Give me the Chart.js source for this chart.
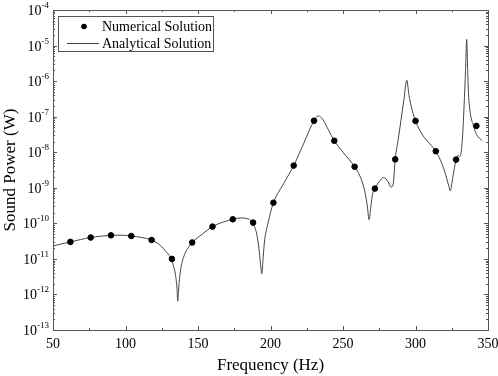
<!DOCTYPE html>
<html><head><meta charset="utf-8">
<script src="https://cdn.jsdelivr.net/npm/chart.js@4/dist/chart.umd.min.js"></script>
<style>html,body{margin:0;padding:0;background:#fff}#wrap{width:498px;height:376px}</style>
</head><body><div id="wrap"><canvas id="c" width="498" height="376"></canvas></div>
<script>
const numFreq = [62,76,90,104,118,132,146,160,174,188,202,216,230,244,258,272,286,300,314,328,342];
const numPower = [3.0e-11,4.0e-11,4.6e-11,4.4e-11,3.4e-11,1.0e-11,2.9e-11,8.1e-11,1.3e-10,1.05e-10,3.8e-10,4.2e-9,7.7e-8,2.1e-8,3.9e-9,9.5e-10,6.3e-9,7.6e-8,1.07e-8,6.2e-9,5.5e-8];
const anaFreq = [50,56,62,69,76,83,90,97,104,111,118,124,128,131,133,134.5,135.5,136,136.5,137.5,139,141,143,146,153,160,167,174,180,184,187,189,190.5,192,193,194,195,196,197,198.5,200,202,209,216,223,230,233,236,240,244,250,258,262,265,266.8,268,269.2,270.5,272,275,278,281,283,284.5,286,288,290,292,294,295.5,297,300,305,310,314,318,321,323,324,325,326.5,328,329.5,330.5,331.5,332.5,333.5,334.5,335.3,336,336.6,337.2,338,340,342,346,350];
const anaPower = [2.3e-11,2.65e-11,3.0e-11,3.5e-11,4.0e-11,4.35e-11,4.6e-11,4.65e-11,4.4e-11,4.0e-11,3.4e-11,2.4e-11,1.6e-11,1.1e-11,6.5e-12,3.5e-12,1.5e-12,6.5e-13,1.2e-12,3.5e-12,8e-12,1.4e-11,2.0e-11,2.9e-11,5.0e-11,8.1e-11,1.07e-10,1.3e-10,1.42e-10,1.35e-10,1.15e-10,8e-11,5e-11,2e-11,8e-12,3.8e-12,1.2e-11,3.5e-11,6e-11,1.1e-10,2e-10,3.8e-10,1.3e-9,4.2e-9,1.8e-8,7.7e-8,1.05e-7,8.5e-8,4.2e-8,2.1e-8,1.0e-8,3.9e-9,2.0e-9,8e-10,3e-10,1.25e-10,3e-10,7e-10,9.5e-10,1.5e-9,1.95e-9,1.5e-9,1.05e-9,1.2e-9,6.3e-9,2.2e-8,8e-8,3e-7,1.05e-6,4e-7,2e-7,7.6e-8,3e-8,1.7e-8,1.07e-8,5e-9,2.2e-9,1.1e-9,8.1e-10,1.3e-9,3e-9,6.2e-9,8.2e-9,7.5e-9,1.0e-8,3e-8,2e-7,2e-6,1.5e-5,2e-6,4e-7,2e-7,1.1e-7,5.5e-8,3.2e-8,2.1e-8];
const xTickValues = [50,100,150,200,250,300,350];
const xMinorValues = [75,125,175,225,275,325];
const yExponents = [-13,-12,-11,-10,-9,-8,-7,-6,-5,-4];
const legendLabels = ['Numerical Solution','Analytical Solution'];

const SERIF = '"Liberation Serif","Times New Roman",serif';

const framePlugin = {
  id: 'frame',
  afterDraw(chart) {
    const ctx = chart.ctx, a = chart.chartArea;
    const xs = chart.scales.x, ys = chart.scales.y;
    ctx.save();
    ctx.strokeStyle = '#555';
    ctx.lineWidth = 1;
    ctx.strokeRect(Math.round(a.left)+0.5, Math.round(a.top)+0.5, Math.round(a.right-a.left), Math.round(a.bottom-a.top));
    ctx.beginPath();
    xTickValues.forEach(v => {
      const px = Math.round(xs.getPixelForValue(v))+0.5;
      ctx.moveTo(px, a.bottom); ctx.lineTo(px, a.bottom-4);
      ctx.moveTo(px, a.top); ctx.lineTo(px, a.top+4);
    });
    xMinorValues.forEach(v => {
      const px = Math.round(xs.getPixelForValue(v))+0.5;
      ctx.moveTo(px, a.bottom); ctx.lineTo(px, a.bottom-2);
      ctx.moveTo(px, a.top); ctx.lineTo(px, a.top+2);
    });
    yExponents.forEach(e => {
      const py = Math.round(ys.getPixelForValue(Math.pow(10,e)))+0.5;
      ctx.moveTo(a.left, py); ctx.lineTo(a.left+4, py);
      ctx.moveTo(a.right, py); ctx.lineTo(a.right-4, py);
      if (e < -4) {
        for (let m = 2; m <= 9; m++) {
          const pm = Math.round(ys.getPixelForValue(m*Math.pow(10,e)))+0.5;
          ctx.moveTo(a.left, pm); ctx.lineTo(a.left+2, pm);
          ctx.moveTo(a.right, pm); ctx.lineTo(a.right-2, pm);
        }
      }
    });
    ctx.stroke();
    ctx.fillStyle = '#000';
    ctx.textBaseline = 'alphabetic';
    yExponents.forEach(e => {
      const py = ys.getPixelForValue(Math.pow(10,e));
      const exp = String(e);
      ctx.font = '9px ' + SERIF;
      const ew = ctx.measureText(exp).width;
      ctx.textAlign = 'left';
      const right = a.left - 4;
      ctx.fillText(exp, right - ew, py - 2);
      ctx.font = '14px ' + SERIF;
      ctx.textAlign = 'right';
      ctx.fillText('10', right - ew, py + 5);
    });
    const lx = 58, ly = 16, lw = 155, lh = 35;
    ctx.fillStyle = '#fff';
    ctx.fillRect(lx, ly, lw, lh);
    ctx.strokeStyle = '#555';
    ctx.strokeRect(lx+0.5, ly+0.5, lw, lh);
    ctx.fillStyle = '#000';
    ctx.beginPath(); ctx.arc(84, 26.5, 2.8, 0, Math.PI*2); ctx.fill();
    ctx.strokeStyle = '#444';
    ctx.beginPath(); ctx.moveTo(67, 43.5); ctx.lineTo(99, 43.5); ctx.stroke();
    ctx.font = '14px ' + SERIF;
    ctx.textAlign = 'left';
    ctx.textBaseline = 'middle';
    ctx.fillText(legendLabels[0], 102, 27);
    ctx.fillText(legendLabels[1], 102, 44);
    ctx.restore();
  }
};

new Chart(document.getElementById('c'), {
  type: 'scatter',
  data: {
    datasets: [
      {
        label: legendLabels[0],
        data: numFreq.map((f,i)=>({x:f,y:numPower[i]})),
        backgroundColor: '#000', borderColor: '#000',
        pointRadius: 2.8, pointHoverRadius: 2.8, showLine: false, order: 0
      },
      {
        label: legendLabels[1],
        type: 'line',
        data: anaFreq.map((f,i)=>({x:f,y:anaPower[i]})),
        borderColor: '#444', borderWidth: 1, pointRadius: 0,
        fill: false, cubicInterpolationMode: 'monotone', order: 1
      }
    ]
  },
  options: {
    responsive: false, animation: false, devicePixelRatio: 1,
    layout: { padding: { top: 10, right: 2, left: 0, bottom: 0 } },
    plugins: { legend: { display: false }, tooltip: { enabled: false } },
    scales: {
      x: {
        type: 'linear', min: 50, max: 350,
        afterBuildTicks: s => { s.ticks = xTickValues.map(v => ({value: v})); },
        afterFit: s => { s.height = 46; s.paddingRight = 10; },
        grid: { display: false, drawTicks: false },
        border: { display: false },
        ticks: { color: '#000', font: { family: SERIF, size: 14 }, padding: 6, maxRotation: 0 },
        title: { display: true, text: 'Frequency (Hz)', color: '#000', font: { family: SERIF, size: 17 }, padding: { top: 2, bottom: 0 } }
      },
      y: {
        type: 'logarithmic', min: 1e-13, max: 1e-4,
        afterBuildTicks: s => { s.ticks = yExponents.map(e => ({value: Math.pow(10,e)})); },
        afterFit: s => { s.width = 53; },
        grid: { display: false, drawTicks: false },
        border: { display: false },
        ticks: { display: false },
        title: { display: true, text: 'Sound Power (W)', color: '#000', font: { family: SERIF, size: 17 }, padding: { top: 0, bottom: 0 } }
      }
    }
  },
  plugins: [framePlugin]
});
</script>
</body></html>
